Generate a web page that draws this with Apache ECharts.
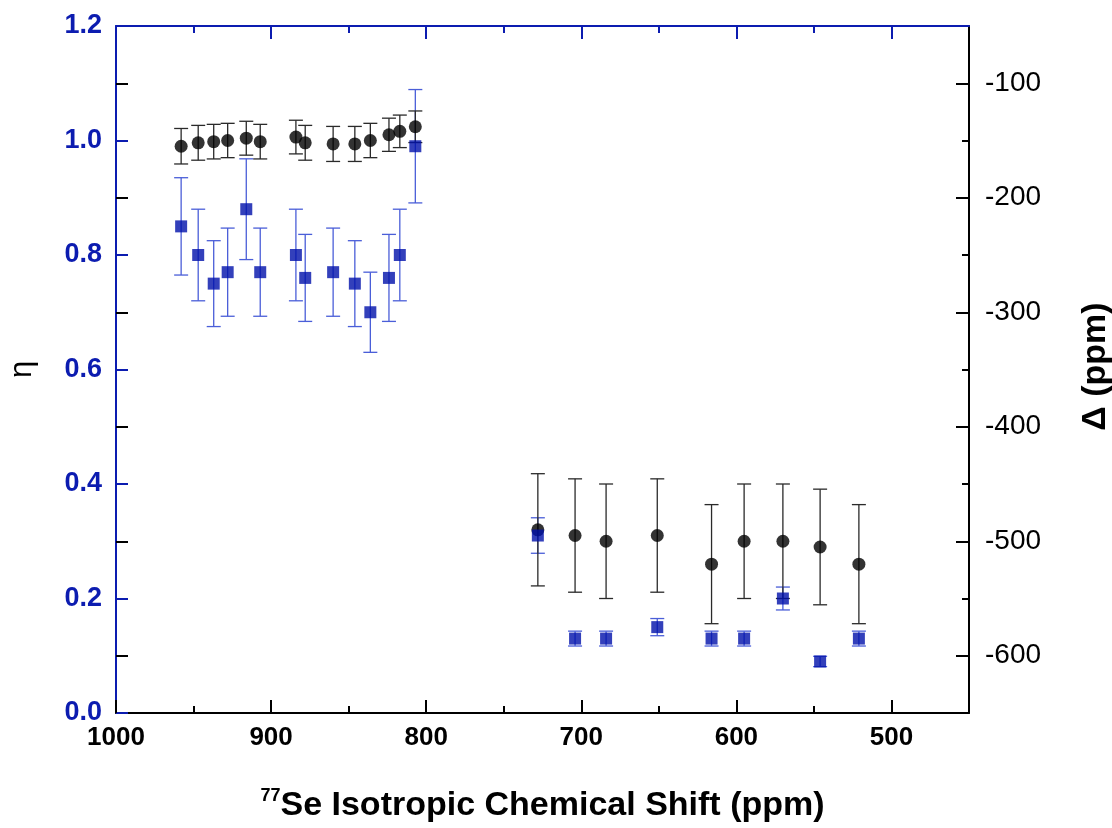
<!DOCTYPE html>
<html>
<head>
<meta charset="utf-8">
<script src="https://cdn.jsdelivr.net/npm/echarts@6/dist/echarts.min.js"></script>
<style>
html,body{margin:0;padding:0;background:#fff;}
#chart{width:1112px;height:828px;}
</style>
</head>
<body>
<div id="chart"></div>
<script>
// 77Se isotropic chemical shift (ppm)
const isoShift = [958, 947, 937, 928, 916, 907, 884, 878, 860, 846, 836, 824, 817, 807,
                  728, 704, 684, 651, 616, 595, 570, 546, 521];
// asymmetry parameter eta (left axis, blue squares)
const eta    = [0.85, 0.80, 0.75, 0.77, 0.88, 0.77, 0.80, 0.76, 0.77, 0.75, 0.70, 0.76, 0.80, 0.99,
                0.31, 0.13, 0.13, 0.15, 0.13, 0.13, 0.20, 0.09, 0.13];
const etaErr = [0.085, 0.08, 0.075, 0.077, 0.088, 0.077, 0.08, 0.076, 0.077, 0.075, 0.07, 0.076, 0.08, 0.099,
                0.031, 0.013, 0.013, 0.015, 0.013, 0.013, 0.02, 0.009, 0.013];
// anisotropy Delta (ppm) (right axis, black circles)
const delta    = [-155, -152, -151, -150, -148, -151, -147, -152, -153, -153, -150, -145, -142, -138,
                  -490, -495, -500, -495, -520, -500, -500, -505, -520];
const deltaErr = [15.5, 15.2, 15.1, 15, 14.8, 15.1, 14.7, 15.2, 15.3, 15.3, 15, 14.5, 14.2, 13.8,
                  49, 49.5, 50, 49.5, 52, 50, 50, 50.5, 52];

const xMajor = [500, 600, 700, 800, 900, 1000];
const xMinor = [550, 650, 750, 850, 950];
const deltaMajor = [-600, -500, -400, -300, -200, -100];
const deltaMinor = [-550, -450, -350, -250, -150];

const BLUE = '#0c1cb0';
const BLUE_ERR = '#4a5ed8';
const FONT = "'Liberation Sans', Arial, sans-serif";

const etaData = isoShift.map((x, i) => [x, eta[i]]);
const etaErrData = isoShift.map((x, i) => [x, eta[i], etaErr[i]]);
const deltaData = isoShift.map((x, i) => [x, delta[i]]);
const deltaErrData = isoShift.map((x, i) => [x, delta[i], deltaErr[i]]);

function errRender(color, width) {
  return function (params, api) {
    const x = api.value(0), y = api.value(1), e = api.value(2);
    const top = api.coord([x, y + e]);
    const bot = api.coord([x, y - e]);
    const hw = 7;
    const style = { stroke: color, lineWidth: width, fill: null };
    return {
      type: 'group',
      children: [
        { type: 'line', shape: { x1: top[0], y1: top[1], x2: bot[0], y2: bot[1] }, style },
        { type: 'line', shape: { x1: top[0] - hw, y1: top[1], x2: top[0] + hw, y2: top[1] }, style },
        { type: 'line', shape: { x1: bot[0] - hw, y1: bot[1], x2: bot[0] + hw, y2: bot[1] }, style }
      ]
    };
  };
}

const baseX = { type: 'value', min: 450, max: 1000, interval: 50, inverse: true, splitLine: { show: false } };

const chart = echarts.init(document.getElementById('chart'), null, { renderer: 'canvas' });
chart.setOption({
  animation: false,
  backgroundColor: '#fff',
  textStyle: { fontFamily: FONT },
  grid: { left: 116, right: 143, top: 26, bottom: 115, containLabel: false, outerBoundsMode: 'none' },
  xAxis: [
    Object.assign({}, baseX, {
      position: 'bottom',
      axisLine: { show: true, lineStyle: { color: '#000', width: 2 } },
      axisTick: { show: true, inside: true, length: 13, customValues: xMajor, lineStyle: { color: '#000', width: 2 } },
      axisLabel: { show: true, customValues: xMajor, margin: 12, color: '#000', fontSize: 26, fontWeight: 'bold', fontFamily: FONT,
                   formatter: v => String(v) },
      name: '{sup|77}{main|Se Isotropic Chemical Shift (ppm)}',
      nameLocation: 'middle',
      nameGap: 74,
      nameTextStyle: {
        rich: {
          sup: { fontSize: 18, fontWeight: 'bold', color: '#000', fontFamily: FONT, verticalAlign: 'top', lineHeight: 20 },
          main: { fontSize: 34, fontWeight: 'bold', color: '#000', fontFamily: FONT, lineHeight: 38 }
        }
      }
    }),
    Object.assign({}, baseX, {
      position: 'bottom',
      axisLine: { show: false },
      axisTick: { show: true, inside: true, length: 7, customValues: xMinor, lineStyle: { color: '#000', width: 2 } },
      axisLabel: { show: false }
    }),
    Object.assign({}, baseX, {
      position: 'top',
      axisLine: { show: true, lineStyle: { color: BLUE, width: 2 } },
      axisTick: { show: true, inside: true, length: 13, customValues: xMajor, lineStyle: { color: BLUE, width: 2 } },
      axisLabel: { show: false }
    }),
    Object.assign({}, baseX, {
      position: 'top',
      axisLine: { show: false },
      axisTick: { show: true, inside: true, length: 7, customValues: xMinor, lineStyle: { color: BLUE, width: 2 } },
      axisLabel: { show: false }
    })
  ],
  yAxis: [
    {
      type: 'value', min: 0, max: 1.2, interval: 0.2, position: 'left',
      splitLine: { show: false },
      axisLine: { show: true, lineStyle: { color: BLUE, width: 2 } },
      axisTick: { show: true, inside: true, length: 12, lineStyle: { color: BLUE, width: 2 } },
      minorTick: { show: true, splitNumber: 2, length: 12, lineStyle: { color: '#000', width: 2 } },
      axisLabel: { margin: 14, color: BLUE, fontSize: 27, fontWeight: 'bold', fontFamily: FONT,
                   formatter: v => v.toFixed(1) },
      name: 'η', nameLocation: 'middle', nameRotate: 90, nameGap: 78,
      nameTextStyle: { fontSize: 31, color: '#000', fontFamily: FONT }
    },
    {
      type: 'value', min: -650, max: -50, interval: 50, position: 'right',
      splitLine: { show: false },
      axisLine: { show: true, lineStyle: { color: '#000', width: 2 } },
      axisTick: { show: true, inside: true, length: 13, customValues: deltaMajor, lineStyle: { color: '#000', width: 2 } },
      axisLabel: { show: true, customValues: deltaMajor, margin: 16, color: '#000', fontSize: 28, fontFamily: FONT },
      name: 'Δ (ppm)', nameLocation: 'middle', nameRotate: 90, nameGap: 110,
      nameTextStyle: { fontSize: 34, fontWeight: 'bold', color: '#000', fontFamily: FONT, padding: [0, 0, 0, 6] }
    },
    {
      type: 'value', min: -650, max: -50, interval: 50, position: 'right',
      splitLine: { show: false },
      axisLine: { show: false },
      axisTick: { show: true, inside: true, length: 7, customValues: deltaMinor, lineStyle: { color: '#000', width: 2 } },
      axisLabel: { show: false }
    }
  ],
  series: [
    {
      type: 'custom', name: 'eta err', xAxisIndex: 0, yAxisIndex: 0,
      renderItem: errRender(BLUE_ERR, 1.3), data: etaErrData, z: 2, silent: true
    },
    {
      type: 'custom', name: 'delta err', xAxisIndex: 0, yAxisIndex: 1,
      renderItem: errRender('#2a2a2a', 1.3), data: deltaErrData, z: 3, silent: true
    },
    {
      type: 'scatter', name: 'Delta', xAxisIndex: 0, yAxisIndex: 1,
      symbol: 'circle', symbolSize: 13, itemStyle: { color: '#000' }, data: deltaData, z: 4
    },
    {
      type: 'scatter', name: 'eta', xAxisIndex: 0, yAxisIndex: 0,
      symbol: 'rect', symbolSize: 12, itemStyle: { color: '#0010aa' }, data: etaData, z: 5
    }
  ]
});
</script>
</body>
</html>
